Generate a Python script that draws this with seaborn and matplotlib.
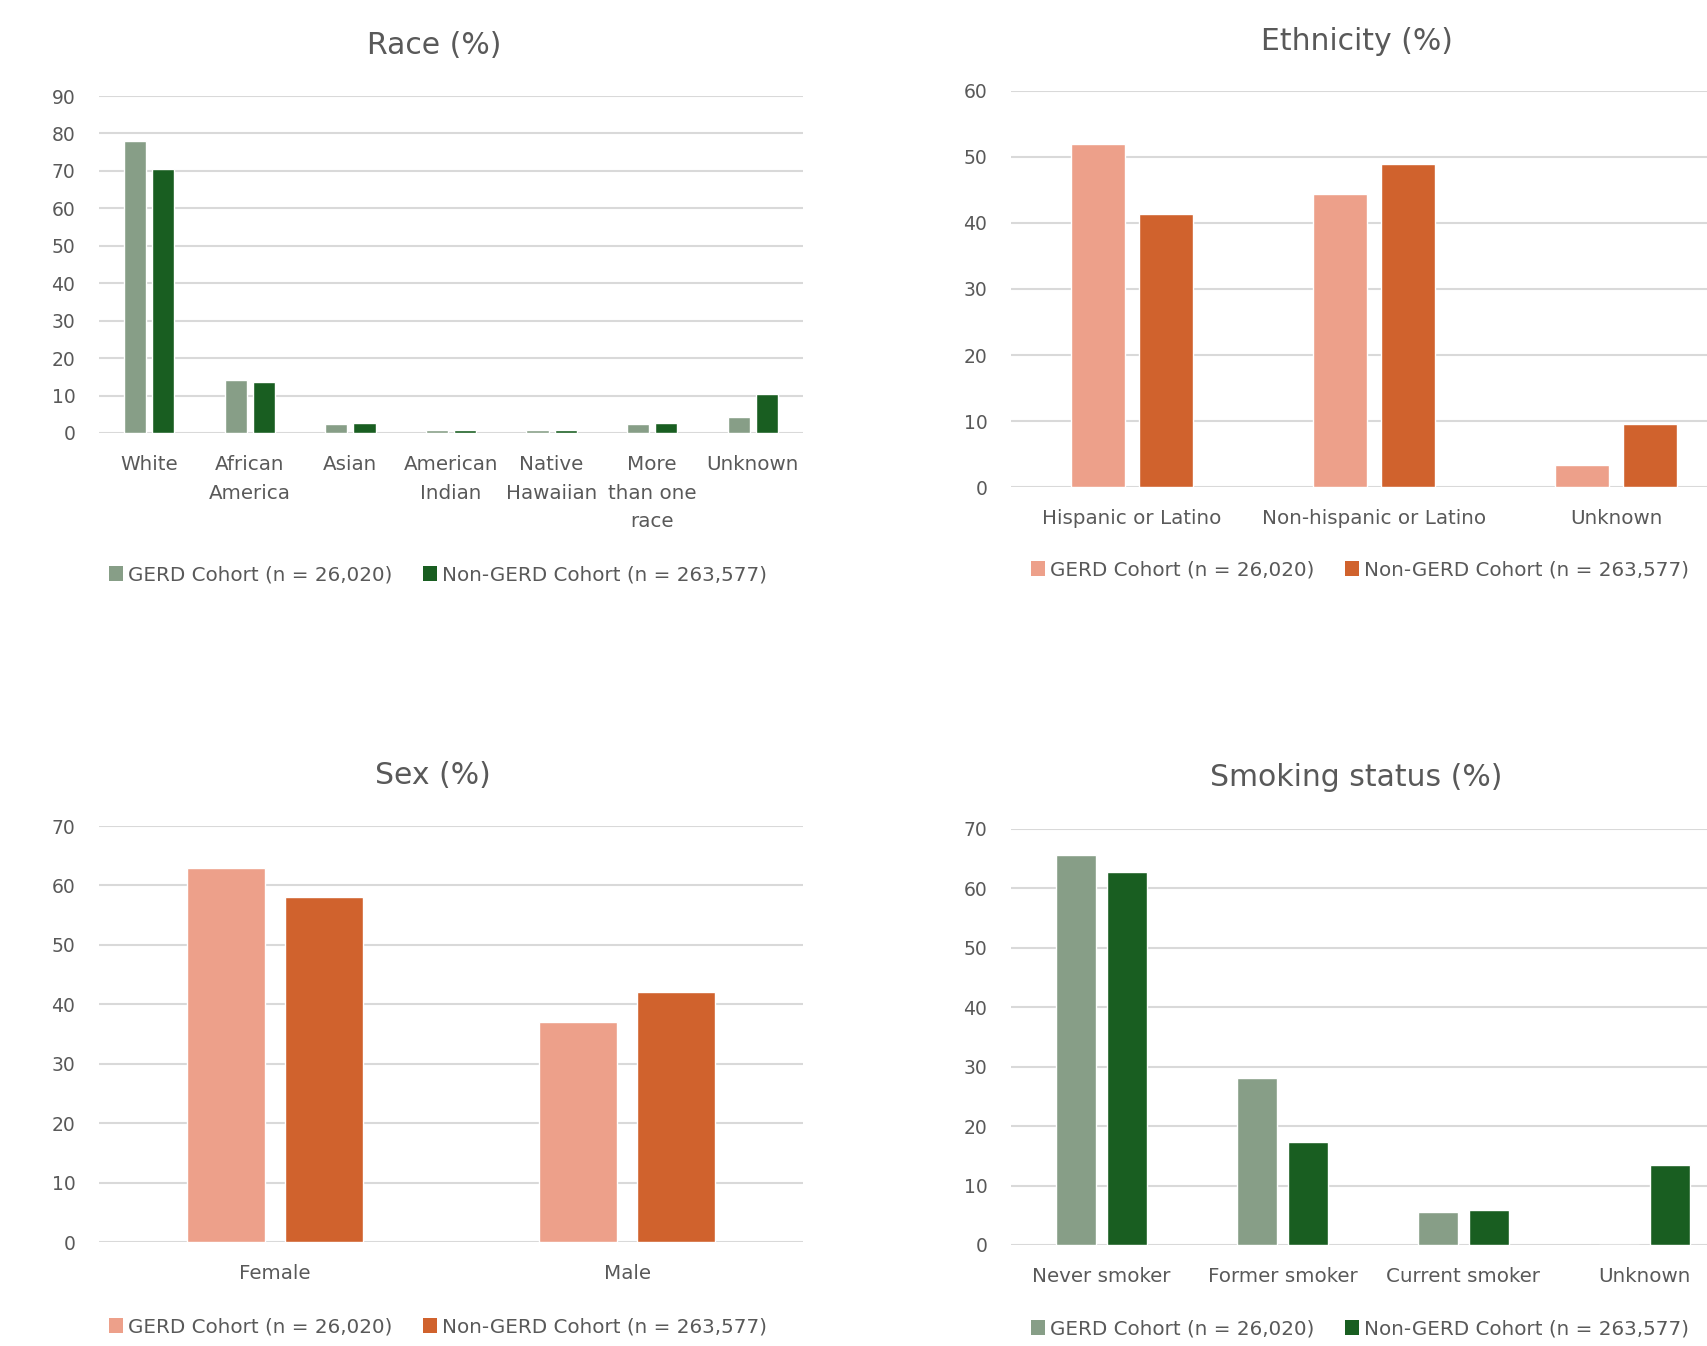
import numpy as np
import pandas as pd
import seaborn as sns
import matplotlib
matplotlib.use("Agg")
import matplotlib.pyplot as plt
from matplotlib.patches import Patch

# ---------------- data ----------------
series_names = ["GERD Cohort (n = 26,020)", "Non-GERD Cohort (n = 263,577)"]

race_categories = ["White", "African\nAmerica", "Asian", "American\nIndian",
                   "Native\nHawaiian", "More\nthan one\nrace", "Unknown"]
race_gerd = [77.9, 14.1, 2.3, 0.7, 0.7, 2.3, 4.4]
race_non_gerd = [70.4, 13.6, 2.8, 0.7, 0.7, 2.8, 10.3]

eth_categories = ["Hispanic or Latino", "Non-hispanic or Latino", "Unknown"]
eth_gerd = [52.0, 44.4, 3.4]
eth_non_gerd = [41.4, 49.0, 9.5]

sex_categories = ["Female", "Male"]
sex_gerd = [62.9, 37.1]
sex_non_gerd = [58.0, 42.1]

smoke_categories = ["Never smoker", "Former smoker", "Current smoker", "Unknown"]
smoke_gerd = [65.6, 28.1, 5.5, 0.0]
smoke_non_gerd = [62.8, 17.4, 5.9, 13.4]

green_colors = ["#879E87", "#195E21"]
orange_colors = ["#EDA08A", "#D0622D"]

# ---------------- style ----------------
sns.set_theme(style="white")
plt.rcParams["font.family"] = ["DejaVu Sans"]
TXT = "#595959"
GRID = "#D9D9D9"
FS = 14.3
YFS = 13.5

W, H = 1707, 1346
fig = plt.figure(figsize=(W / 100, H / 100), dpi=100)


def rect(left, right, top, bottom):
    return [left / W, 1 - bottom / H, (right - left) / W, (bottom - top) / H]


def panel(r, cats, g, n, colors, ymax, title, title_xy, legend_xy):
    ax = fig.add_axes(r)
    df = pd.DataFrame({
        "cat": list(cats) * 2,
        "val": list(g) + list(n),
        "cohort": [series_names[0]] * len(cats) + [series_names[1]] * len(cats),
    })
    sns.barplot(data=df, x="cat", y="val", hue="cohort", order=cats,
                hue_order=series_names, palette=colors, width=0.56, gap=0.21,
                saturation=1, errorbar=None, legend=False, ax=ax)
    ax.set_xlim(-0.5, len(cats) - 0.5)
    ax.set_ylim(0, ymax)
    ax.set_yticks(np.arange(0, ymax + 1, 10))
    ax.set_xlabel("")
    ax.set_ylabel("")
    for s in ax.spines.values():
        s.set_visible(False)
    ax.yaxis.grid(True, color=GRID, lw=1.5)
    ax.xaxis.grid(False)
    ax.set_axisbelow(True)
    ax.tick_params(axis="y", length=0, pad=17, labelsize=YFS, labelcolor=TXT)
    ax.tick_params(axis="x", length=0, pad=16, labelsize=FS, labelcolor=TXT)
    for t in ax.get_xticklabels():
        t.set_linespacing(1.62)
    fig.text(title_xy[0] / W, 1 - title_xy[1] / H, title, ha="center",
             va="baseline", fontsize=21.5, color=TXT)
    handles = [Patch(facecolor=c, edgecolor="none") for c in colors]
    fig.legend(handles, series_names, loc="center",
               bbox_to_anchor=(legend_xy[0] / W, 1 - legend_xy[1] / H),
               ncol=2, frameon=False, fontsize=FS, labelcolor=TXT,
               handlelength=0.75, handleheight=0.75, handletextpad=0.25,
               columnspacing=1.5)
    return ax


panel(rect(99, 803, 96, 433), race_categories, race_gerd, race_non_gerd,
      green_colors, 90, "Race (%)", (434, 54), (438, 575))
panel(rect(1011, 1737, 91, 487), eth_categories, eth_gerd, eth_non_gerd,
      orange_colors, 60, "Ethnicity (%)", (1357, 50), (1360, 570))
panel(rect(99, 803, 826, 1242), sex_categories, sex_gerd, sex_non_gerd,
      orange_colors, 70, "Sex (%)", (433, 784), (438, 1327))
panel(rect(1011, 1735, 829, 1245), smoke_categories, smoke_gerd, smoke_non_gerd,
      green_colors, 70, "Smoking status (%)", (1356, 786), (1360, 1329))

fig.savefig("out.png", dpi=100, facecolor="white")
